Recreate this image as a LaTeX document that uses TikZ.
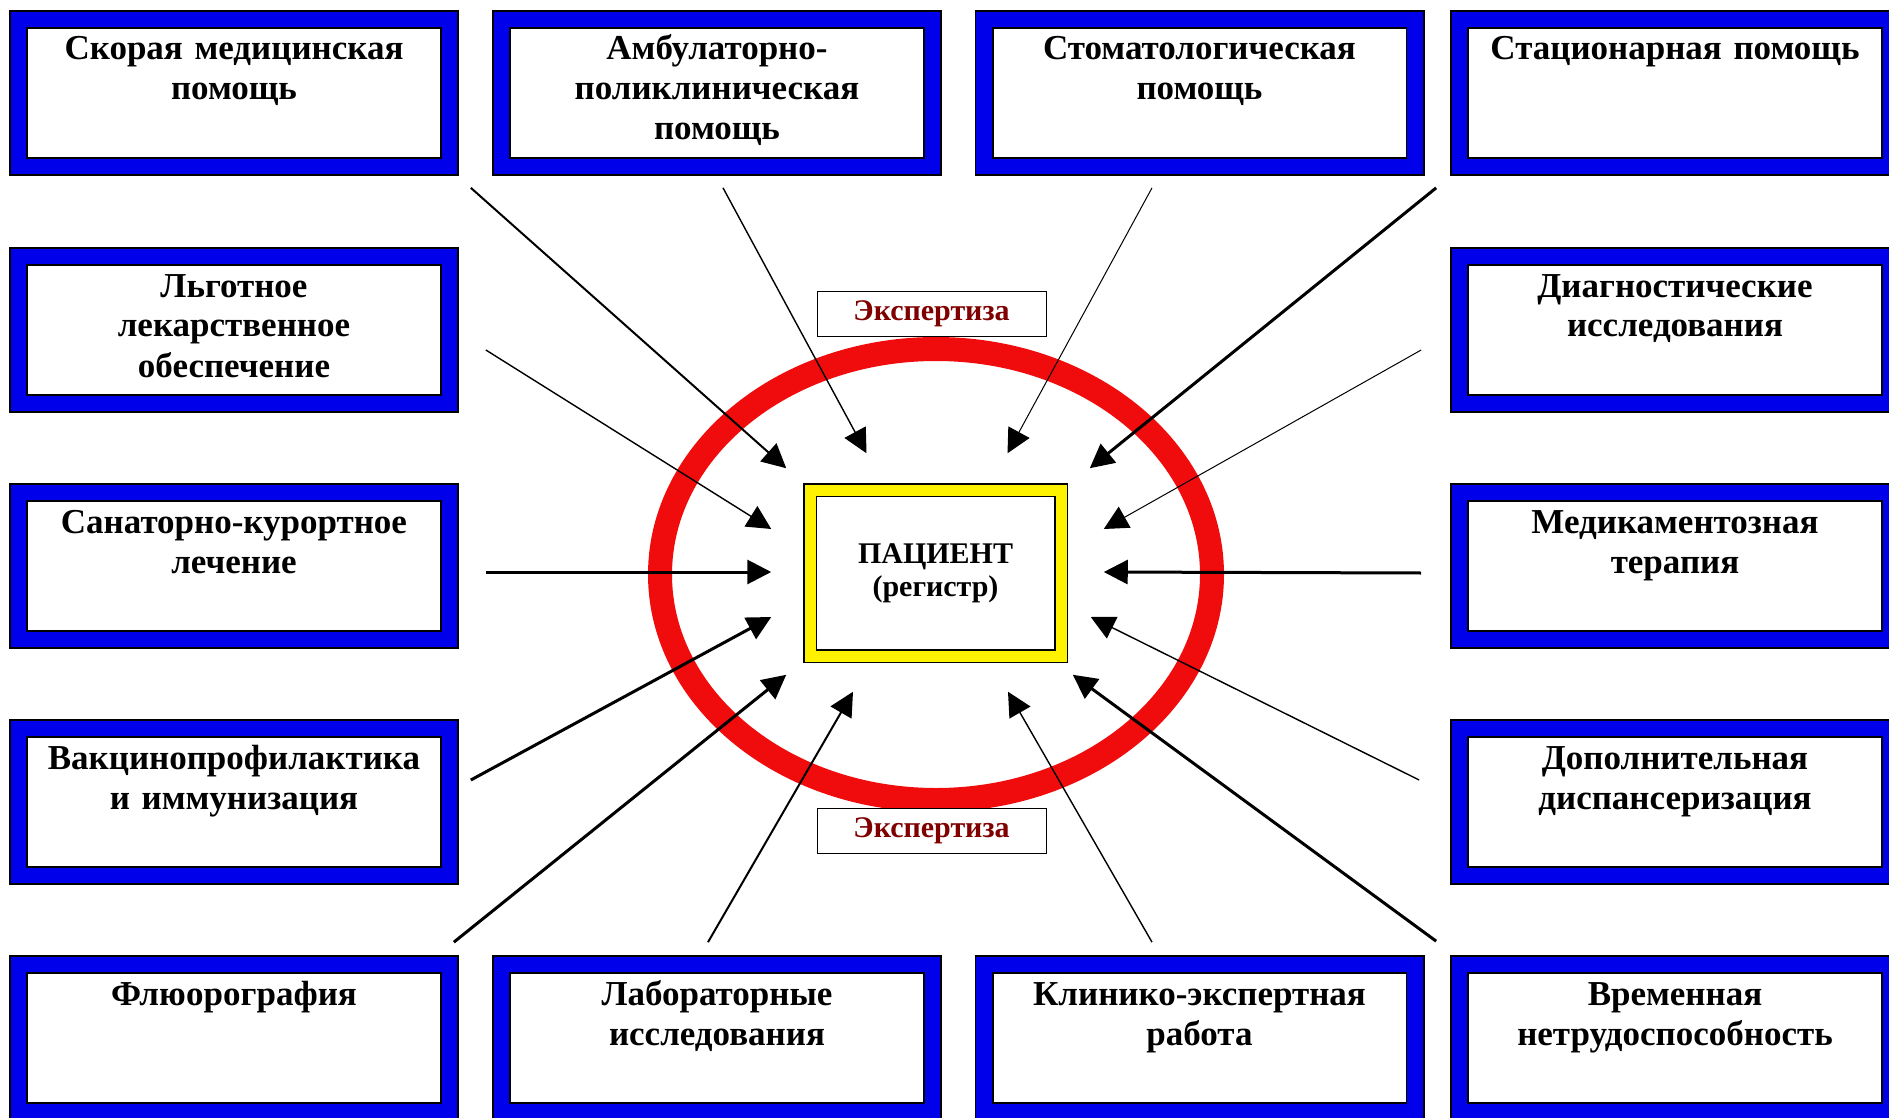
\documentclass[tikz,border=0pt]{standalone}
\usepackage{fontspec}
\setmainfont{Liberation Serif}
\usepackage{xcolor}
\usetikzlibrary{calc,arrows.meta}
\definecolor{boxblue}{RGB}{0,0,235}
\definecolor{ringred}{RGB}{240,12,12}
\definecolor{expred}{RGB}{128,0,0}

\begin{document}
\begin{tikzpicture}[x=0.5pt, y=-0.5pt, >={Triangle[length=12pt,width=12pt]},
    svc/.style={draw=black, double=boxblue, line width=0.85pt, double distance=7.8pt,
                fill=white, inner sep=0pt, minimum width=215.5pt, text width=212pt,
                align=center, text height=20.25pt, text depth=53.25pt,
                font=\fontsize{17.5}{20}\selectfont\bfseries},
    pacbox/.style={draw=black, double=yellow, line width=0.75pt, double distance=5.5pt,
                fill=white, inner sep=0pt, minimum width=125.5pt, minimum height=83pt,
                align=center, font=\fontsize{15}{16.5}\selectfont\bfseries},
    eksp/.style={draw=black, line width=0.5pt, fill=white, inner sep=0pt,
                minimum width=114.5pt, minimum height=22.5pt, text=expred,
                font=\fontsize{15}{17}\selectfont\bfseries},
    ring/.style={draw=ringred, line width=12pt},
    arr/.style={->, line width=0.7pt},
    arrb/.style={->, line width=1.5pt}]
    \useasboundingbox[fill=white] (0,0) rectangle (1889,1118);

    % ring round the patient
    \draw[ring] (936,574.5) ellipse [x radius=138pt, y radius=112.75pt];

    % row 1
    \node[svc] (skor) at (234,93)    {Скорая медицинская\\помощь};
    \node[svc] (amb)  at (717,93)    {Амбулаторно-\\поликлиническая\\помощь};
    \node[svc] (stom) at (1199.5,93) {Стоматологическая\\помощь};
    \node[svc] (stac) at (1675,93)   {Стационарная помощь};
    % left and right columns
    \node[svc] (lgot)  at (234,330)  {Льготное\\лекарственное\\обеспечение};
    \node[svc] (diag)  at (1675,330) {Диагностические\\исследования};
    \node[svc] (sanat) at (234,566)  {Санаторно-курортное\\лечение};
    \node[svc] (medik) at (1675,566) {Медикаментозная\\терапия};
    \node[svc] (vakc)  at (234,802)  {Вакцинопрофилактика\\и иммунизация};
    \node[svc] (dop)   at (1675,802) {Дополнительная\\диспансеризация};
    % row 5
    \node[svc] (flu)  at (234,1038)    {Флюорография};
    \node[svc] (lab)  at (717,1038)    {Лабораторные\\исследования};
    \node[svc] (klin) at (1199.5,1038) {Клинико-экспертная\\работа};
    \node[svc] (vrem) at (1675,1038)   {Временная\\нетрудоспособность};

    \node[pacbox] (pac) at (935.5,573) {ПАЦИЕНТ\\(регистр)};

    % arrows into the centre
    \draw[arr, line width=1pt] ($(skor.south east)+(20.5,20.5)$) -- ($(pac.north west)+(-23,-21)$);
    \draw[arr]  ($(amb.south)+(6,20.5)$)          -- ($(pac.north)+(-69,-36)$);
    \draw[arr, line width=0.5pt] ($(stom.south)+(-47.5,20.5)$) -- ($(pac.north)+(72,-36)$);
    \draw[arrb] ($(stac.south west)+(-22.5,20.5)$) -- ($(pac.north east)+(28,-21)$);
    \draw[arr]  ($(lgot.east)+(35.5,20)$)          -- ($(pac.west)+(-38,-44)$);
    \draw[arr, line width=0.5pt] ($(diag.west)+(-37.5,20)$) -- ($(pac.east)+(42,-44)$);
    \draw[arrb] ($(sanat.east)+(35.5,6)$)          -- ($(pac.west)+(-38,-1)$);
    \draw[arrb] ($(medik.west)+(-37.5,7)$)         -- ($(pac.east)+(42,-1)$);
    \draw[arrb] ($(vakc.east)+(20.5,-22)$)         -- ($(pac.west)+(-38,44)$);
    \draw[arr]  ($(dop.west)+(-39.5,-22)$)         -- ($(pac.east)+(29,44)$);
    \draw[arrb] ($(flu.north east)+(3.5,-21.5)$)   -- ($(pac.south west)+(-23,18)$);
    \draw[arr, line width=1pt] ($(lab.north)+(-9,-21.5)$) -- ($(pac.south)+(-82.5,35)$);
    \draw[arr]  ($(klin.north)+(-47.5,-21.5)$)     -- ($(pac.south)+(72.5,35)$);
    \draw[arrb] ($(vrem.north west)+(-22.5,-22.5)$) -- ($(pac.south east)+(11,18)$);

    \node[eksp] (ekspT) at (931.5,313.5) {Экспертиза};
    \node[eksp] (ekspB) at (931.5,831)   {Экспертиза};
\end{tikzpicture}
\end{document}
